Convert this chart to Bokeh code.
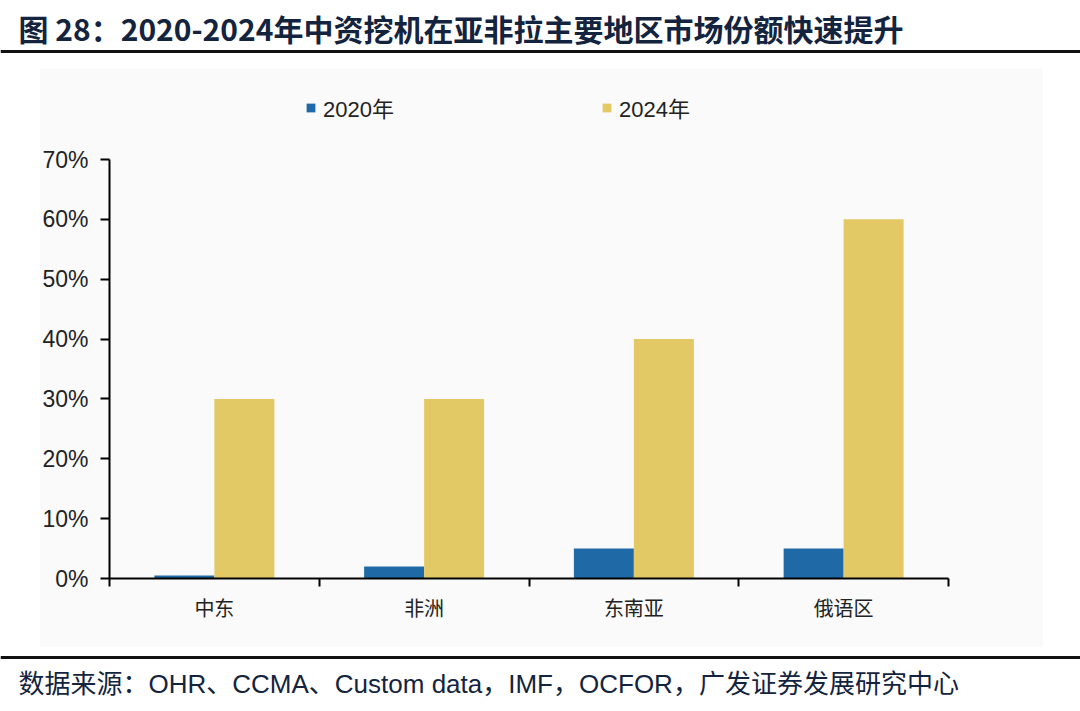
from bokeh.plotting import figure
from bokeh.models import (ColumnDataSource, FixedTicker, NumeralTickFormatter, Legend, LegendItem,
                          Label, Span, Range1d, Spacer)
from bokeh.layouts import column, row
from bokeh.embed import file_html
from bokeh.resources import INLINE

# ---- data ----
categories = ["中东", "非洲", "东南亚", "俄语区"]
share_2020 = [0.005, 0.02, 0.05, 0.05]
share_2024 = [0.30, 0.30, 0.40, 0.60]
series_names = ["2020年", "2024年"]
y_ticks = [0.0, 0.1, 0.2, 0.3, 0.4, 0.5, 0.6, 0.7]
title_text = "图 28：2020-2024年中资挖机在亚非拉主要地区市场份额快速提升"
source_text = "数据来源：OHR、CCMA、Custom data，IMF，OCFOR，广发证券发展研究中心"

BLUE = "#1f6aa6"
GOLD = "#e3c866"
NAVY = "#14243e"
PANEL = "#fafafa"
CJK = "Noto Sans CJK SC"
LAT = "'Liberation Sans', 'Noto Sans CJK SC'"

PAGE_W = 1080
TOP_H, MAIN_H, BOT_H = 68, 579, 64
PAD_L, PAD_R = 39, 37
MAIN_W = PAGE_W - PAD_L - PAD_R

# ---------- header (title + rule) ----------
top = figure(width=PAGE_W, height=TOP_H, output_backend="svg", toolbar_location=None,
             x_range=Range1d(0, PAGE_W), y_range=Range1d(TOP_H, 0),
             x_axis_location=None, y_axis_location=None, min_border=0)
top.outline_line_color = None
top.grid.visible = False
top.background_fill_color = "white"
top.border_fill_color = "white"
top.add_layout(Label(x=18, y=27, text=title_text, text_font=CJK, text_font_style="bold",
                     text_font_size="30px", text_color=NAVY, text_baseline="middle"))
top.add_layout(Span(location=51, dimension="width", line_color="#111111", line_width=3))

# ---------- main chart ----------
frame_top_pad, frame_bot_pad = 2, 69
frame_h = MAIN_H - frame_top_pad - frame_bot_pad
px_per_unit = 419 / 0.7
y_end = frame_h / px_per_unit

n = len(categories)
centers = [i + 0.5 for i in range(n)]
bw = 0.286
src = ColumnDataSource(dict(
    x20=[c - bw / 2 for c in centers], x24=[c + bw / 2 for c in centers],
    y20=share_2020, y24=share_2024))

p = figure(width=MAIN_W, height=MAIN_H, output_backend="svg", toolbar_location=None,
           x_range=Range1d(0, n), y_range=Range1d(0, y_end),
           min_border_left=109 - PAD_L, min_border_right=MAIN_W - (948 - PAD_L),
           min_border_bottom=frame_bot_pad, min_border_top=frame_top_pad)
p.background_fill_color = PANEL
p.border_fill_color = PANEL
p.outline_line_color = None
p.grid.visible = False

r20 = p.vbar(x="x20", top="y20", bottom=0, width=bw, source=src, fill_color=BLUE, line_color=None)
r24 = p.vbar(x="x24", top="y24", bottom=0, width=bw, source=src, fill_color=GOLD, line_color=None)

xa = p.xaxis[0]
xa.ticker = FixedTicker(ticks=centers, minor_ticks=list(range(n + 1)))
xa.major_label_overrides = {c: lab for c, lab in zip(centers, categories)}
xa.major_tick_out = 0
xa.major_tick_in = 0
xa.minor_tick_out = 8
xa.minor_tick_in = 0
xa.minor_tick_line_color = "black"
xa.minor_tick_line_width = 2
xa.axis_line_color = "black"
xa.axis_line_width = 2
xa.major_label_standoff = 6
xa.major_label_text_font = CJK
xa.major_label_text_font_size = "20px"
xa.major_label_text_color = "#222222"

ya = p.yaxis[0]
ya.ticker = FixedTicker(ticks=y_ticks)
ya.formatter = NumeralTickFormatter(format="0%")
ya.bounds = (0, 0.7)
ya.major_tick_out = 9
ya.major_tick_in = 0
ya.minor_tick_out = 0
ya.minor_tick_in = 0
ya.major_tick_line_width = 2
ya.axis_line_width = 2
ya.axis_line_color = "black"
ya.major_label_standoff = 12
ya.major_label_text_font = "Liberation Sans"
ya.major_label_text_font_size = "23px"
ya.major_label_text_color = "#222222"

legend = Legend(items=[LegendItem(label=series_names[0], renderers=[r20]),
                       LegendItem(label=series_names[1], renderers=[r24])],
                orientation="horizontal", location=(196, 455), padding=0, margin=0,
                spacing=207, glyph_width=11, glyph_height=11, label_standoff=7,
                label_text_font=LAT, label_text_font_size="22px",
                label_text_color="#222222", background_fill_alpha=0,
                border_line_color=None)
p.add_layout(legend)

main_row = row(Spacer(width=PAD_L, height=MAIN_H), p, Spacer(width=PAD_R, height=MAIN_H))

# ---------- footer (rule + source) ----------
bot = figure(width=PAGE_W, height=BOT_H, output_backend="svg", toolbar_location=None,
             x_range=Range1d(0, PAGE_W), y_range=Range1d(BOT_H, 0),
             x_axis_location=None, y_axis_location=None, min_border=0)
bot.outline_line_color = None
bot.grid.visible = False
bot.background_fill_color = "white"
bot.border_fill_color = "white"
bot.add_layout(Span(location=10, dimension="width", line_color="#111111", line_width=3))
bot.add_layout(Label(x=18, y=36, text=source_text, text_font=LAT,
                     text_font_size="26px", text_color=NAVY, text_baseline="middle"))

page = column(top, main_row, bot)
open("out.html", "w").write(file_html(page, INLINE))
